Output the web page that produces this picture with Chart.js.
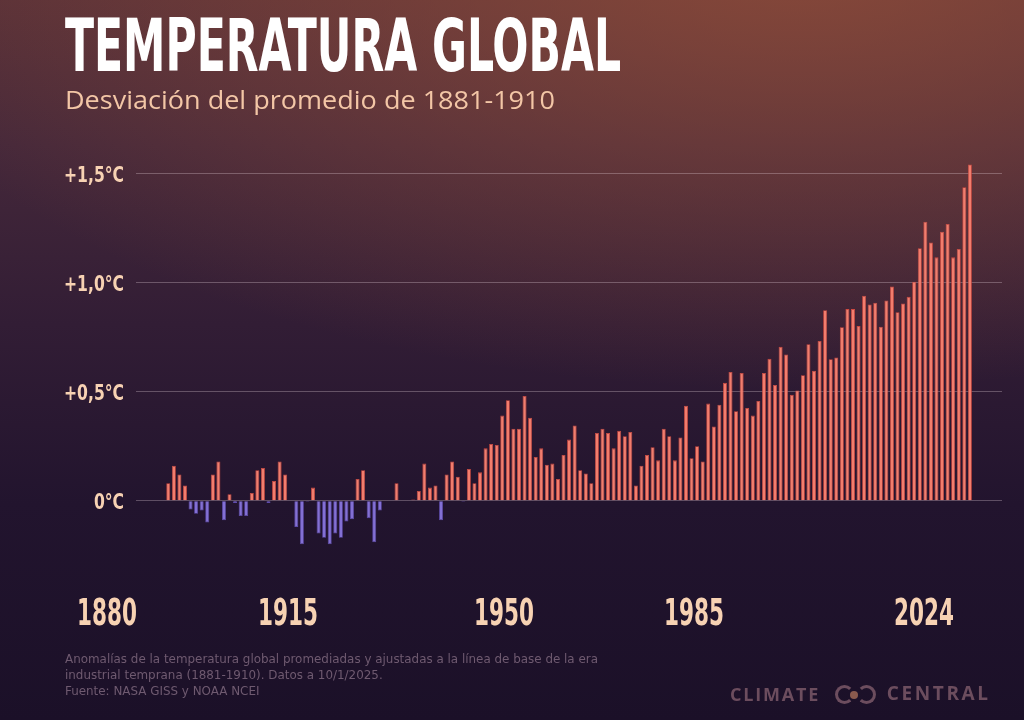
<!DOCTYPE html>
<html lang="es"><head><meta charset="utf-8">
<title>Temperatura global</title>
<script src="https://cdn.jsdelivr.net/npm/chart.js@4.4.1/dist/chart.umd.min.js"></script>
<style>
html,body{margin:0;padding:0;}
body{width:1024px;height:720px;overflow:hidden;position:relative;
  background:
    radial-gradient(ellipse 950px 430px at 800px -40px, rgba(150,80,58,0.75), rgba(150,80,58,0) 100%),
    linear-gradient(to bottom, #573038 0%, #45283a 20%, #321d35 45%, #22142e 70%, #1b1028 100%);
  font-family:"Open Sans",sans-serif;}
#c{position:absolute;left:0;top:0;}
.fit{position:absolute;white-space:nowrap;transform-origin:0 0;}
#title{left:65px;top:9px;font:bold 73px/73px "Liberation Sans Narrow","DejaVu Sans Condensed",sans-serif;color:#ffffff;}
#subtitle{left:65px;top:86px;font:400 26px/26px "Open Sans",sans-serif;color:#f3c6a6;}
#note{left:65px;top:651px;font:400 13px/16px "Liberation Sans Narrow","DejaVu Sans Condensed",sans-serif;color:#6f5a70;}
#logo{position:absolute;left:730px;top:683px;height:22px;width:258px;color:#6c4d5e;font:bold 18px/22px "Open Sans",sans-serif;}
#logo .a{position:absolute;left:0;top:0;letter-spacing:1.8px;}
#logo .b{position:absolute;right:0;top:-1px;font-size:19px;letter-spacing:2.6px;margin-right:-2.6px;}
#logo .r{position:absolute;top:2px;width:19px;height:19px;border:3.5px solid #6c4d5e;border-radius:50%;box-sizing:border-box;}
#logo .r1{left:105px;border-right-color:transparent;}
#logo .r2{left:127px;border-left-color:transparent;}
#logo .d{position:absolute;left:120px;top:8px;width:8px;height:8px;border-radius:50%;background:#8a5a4e;}
</style>
</head>
<body>
<canvas id="c" width="1024" height="720"></canvas>
<div id="title" class="fit">TEMPERATURA GLOBAL</div>
<div id="subtitle" class="fit">Desviación del promedio de 1881-1910</div>
<div id="note" class="fit">Anomalías de la temperatura global promediadas y ajustadas a la línea de base de la era<br>industrial temprana (1881-1910). Datos a 10/1/2025.<br>Fuente: NASA GISS y NOAA NCEI</div>
<div id="logo"><span class="a">CLIMATE</span><span class="r r1"></span><span class="d"></span><span class="r r2"></span><span class="b">CENTRAL</span></div>
<script>
// ---- data ----
const FIRST_YEAR = 1880;
const LAST_YEAR = 2024;
const YEARS = [];
for (let y = FIRST_YEAR; y <= LAST_YEAR; y++) YEARS.push(y);

// anomaly (°C) relative to 1881-1910, one per year 1880..2024
const ANOMALY = [
  // 1880-1889
  0.08, 0.16, 0.12, 0.07, -0.04, -0.06, -0.045, -0.10, 0.12, 0.18,
  // 1890-1899
  -0.09, 0.03, -0.01, -0.07, -0.07, 0.035, 0.14, 0.15, -0.01, 0.09,
  // 1900-1909
  0.18, 0.12, 0.0, -0.12, -0.20, -0.005, 0.06, -0.15, -0.17, -0.20,
  // 1910-1919
  -0.15, -0.17, -0.095, -0.085, 0.10, 0.14, -0.08, -0.19, -0.045, 0.0,
  // 1920-1929
  0.0, 0.08, 0.0, 0.0, 0.005, 0.045, 0.17, 0.06, 0.07, -0.09,
  // 1930-1939
  0.12, 0.18, 0.11, -0.005, 0.145, 0.08, 0.13, 0.24, 0.26, 0.255,
  // 1940-1949
  0.39, 0.46, 0.33, 0.33, 0.48, 0.38, 0.20, 0.24, 0.165, 0.17,
  // 1950-1959
  0.10, 0.21, 0.28, 0.345, 0.14, 0.125, 0.08, 0.31, 0.33, 0.31,
  // 1960-1969
  0.24, 0.32, 0.295, 0.315, 0.07, 0.16, 0.21, 0.245, 0.185, 0.33,
  // 1970-1979
  0.295, 0.185, 0.29, 0.435, 0.195, 0.25, 0.18, 0.445, 0.34, 0.44,
  // 1980-1989
  0.54, 0.59, 0.41, 0.585, 0.425, 0.39, 0.457, 0.585, 0.65, 0.53,
  // 1990-1999
  0.705, 0.67, 0.485, 0.505, 0.575, 0.717, 0.596, 0.732, 0.873, 0.648,
  // 2000-2009
  0.656, 0.795, 0.878, 0.878, 0.80, 0.939, 0.899, 0.907, 0.797, 0.917,
  // 2010-2019
  0.982, 0.864, 0.904, 0.934, 1.003, 1.157, 1.278, 1.183, 1.115, 1.232,
  // 2020-2024
  1.268, 1.115, 1.153, 1.436, 1.541
];

const Y_TICKS = [0, 0.5, 1.0, 1.5];
const Y_TICK_LABELS = ['0°C', '+0,5°C', '+1,0°C', '+1,5°C'];
const YEAR_LABELS = ['1880', '1915', '1950', '1985', '2024'];

// ---- layout / style (not data) ----
const YEAR_LABEL_CENTER_X = [107, 288, 504, 694, 924];
const WARM = '#f27d6d', WARM_EDGE = '#cf4a40';
const COOL = '#8370d4', COOL_EDGE = '#5f4cae';
const LABEL_COLOR = '#f7d2b3';
const CONDENSED = '"Liberation Sans Narrow","DejaVu Sans Condensed",sans-serif';

function fit(id, w) {
  const el = document.getElementById(id);
  const r = el.getBoundingClientRect().width;
  el.style.transform = 'scaleX(' + (w / r) + ')';
}
fit('title', 556);
fit('subtitle', 490);
fit('note', 533);

// condensed labels: year captions under the plot and the °C labels on the y scale
const condensedLabels = {
  id: 'condensedLabels',
  afterDraw(chart) {
    const ctx = chart.ctx;
    ctx.save();
    ctx.fillStyle = LABEL_COLOR;
    ctx.font = 'bold 37px ' + CONDENSED;
    const sx = 60 / ctx.measureText('1880').width;
    ctx.textAlign = 'center';
    ctx.textBaseline = 'alphabetic';
    YEAR_LABELS.forEach((t, i) => {
      ctx.save();
      ctx.translate(YEAR_LABEL_CENTER_X[i], 625);
      ctx.scale(sx, 1);
      ctx.fillText(t, 0, 0);
      ctx.restore();
    });
    const ys = chart.scales.y;
    ctx.font = 'bold 22px ' + CONDENSED;
    const sy = 60 / ctx.measureText('+1,5°C').width;
    ctx.textAlign = 'right';
    ctx.textBaseline = 'middle';
    Y_TICKS.forEach((v, i) => {
      ctx.save();
      ctx.translate(chart.chartArea.left - 12, ys.getPixelForValue(v) + 3);
      ctx.scale(sy, 1);
      ctx.fillText(Y_TICK_LABELS[i], 0, 0);
      ctx.restore();
    });
    ctx.restore();
  }
};

new Chart(document.getElementById('c'), {
  type: 'bar',
  data: {
    datasets: [{
      data: YEARS.map((y, i) => ({ x: y, y: ANOMALY[i] })),
      backgroundColor: ANOMALY.map(v => v >= 0 ? WARM : COOL),
      borderColor: ANOMALY.map(v => v >= 0 ? WARM_EDGE : COOL_EDGE),
      borderWidth: 0.8,
      borderSkipped: 'start',
      barPercentage: 0.72,
      categoryPercentage: 1.0
    }]
  },
  options: {
    responsive: false,
    animation: false,
    devicePixelRatio: 1,
    layout: { padding: { left: 0, right: 22, top: 151.5, bottom: 142.9 } },
    plugins: { legend: { display: false }, tooltip: { enabled: false } },
    scales: {
      x: {
        type: 'linear',
        offset: false,
        min: 1874.2,
        max: 2029.77,
        display: false,
        grid: { offset: false }
      },
      y: {
        min: -0.35,
        max: 1.6,
        afterFit(s) { s.width = 136; },
        afterBuildTicks(s) { s.ticks = Y_TICKS.map(v => ({ value: v })); },
        border: { display: false },
        grid: { color: 'rgba(235,215,225,0.30)', lineWidth: 1, drawTicks: false },
        ticks: { display: false }
      }
    }
  },
  plugins: [condensedLabels]
});
</script>
</body></html>
